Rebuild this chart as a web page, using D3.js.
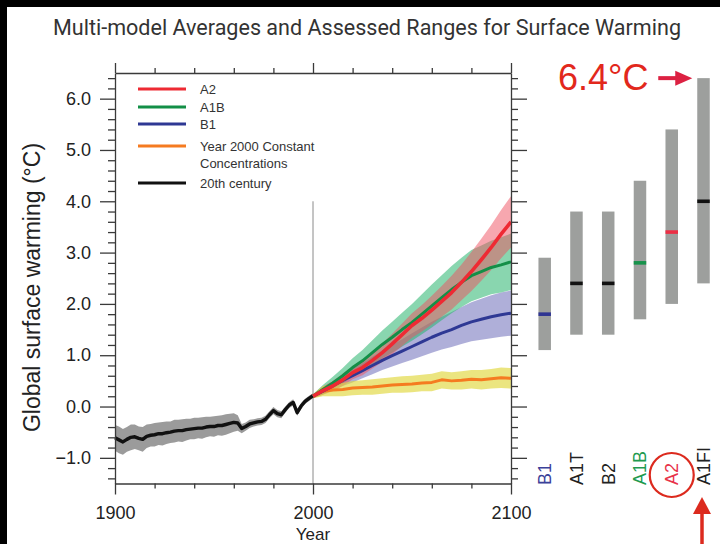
<!DOCTYPE html>
<html>
<head>
<meta charset="utf-8">
<script src="https://cdn.jsdelivr.net/npm/d3@7"></script>
<style>
  body { margin: 0; background: #fff; }
  svg { display: block; }
  .axis path, .axis line { stroke: #3a3a3a; stroke-width: 1.3; }
  .axis text { font-family: "Liberation Sans", Arial, sans-serif; font-size: 18px; fill: #222; }
</style>
</head>
<body>
<svg id="chart" width="720" height="544"></svg>
<script>
// 20th century multi-model mean and spread (every 2 years)
const years20 = [1900,1902,1904,1906,1908,1910,1912,1914,1916,1918,1920,1922,1924,1926,1928,1930,1932,1934,1936,1938,
  1940,1942,1944,1946,1948,1950,1952,1954,1956,1958,1960,1962,1964,1966,1968,1970,1972,1974,1976,1978,
  1980,1982,1984,1986,1988,1990,1992,1994,1996,1998,2000];
const mean20 = [-0.61,-0.65,-0.69,-0.64,-0.60,-0.59,-0.62,-0.64,-0.58,-0.56,-0.55,-0.53,-0.53,-0.51,-0.50,-0.48,-0.47,-0.47,-0.45,-0.44,
  -0.43,-0.42,-0.42,-0.40,-0.39,-0.39,-0.37,-0.37,-0.35,-0.33,-0.31,-0.32,-0.43,-0.39,-0.34,-0.32,-0.30,-0.29,-0.25,-0.16,
  -0.08,-0.14,-0.16,-0.06,0.03,0.08,-0.12,0.01,0.10,0.16,0.21];
const spread20 = [0.25,0.26,0.25,0.24,0.25,0.24,0.23,0.24,0.23,0.22,0.23,0.22,0.23,0.22,0.21,0.22,0.21,0.22,0.21,0.20,
  0.21,0.20,0.21,0.20,0.19,0.20,0.19,0.20,0.20,0.19,0.18,0.15,0.09,0.08,0.08,0.07,0.07,0.07,0.07,0.07,
  0.07,0.07,0.07,0.06,0.06,0.06,0.06,0.06,0.05,0.05,0.05];

// 21st century projections (every 5 years)
const yearsProj = [2000,2005,2010,2015,2020,2025,2030,2035,2040,2045,2050,2055,2060,2065,2070,2075,2080,2085,2090,2095,2100];
const a2Mean = [0.20,0.31,0.40,0.52,0.66,0.76,0.90,1.05,1.22,1.40,1.58,1.72,1.88,2.05,2.22,2.42,2.63,2.86,3.10,3.36,3.60];
const a2Spread = [0.04,0.08,0.10,0.12,0.13,0.15,0.16,0.18,0.20,0.22,0.24,0.26,0.28,0.30,0.33,0.35,0.38,0.41,0.44,0.47,0.50];
const a1bMean = [0.20,0.33,0.46,0.60,0.76,0.89,1.05,1.21,1.35,1.50,1.64,1.80,1.96,2.12,2.28,2.42,2.55,2.63,2.71,2.76,2.82];
const a1bSpread = [0.04,0.09,0.12,0.15,0.18,0.21,0.24,0.27,0.30,0.33,0.36,0.39,0.42,0.44,0.46,0.48,0.50,0.51,0.52,0.54,0.55];
const b1Mean = [0.20,0.30,0.40,0.51,0.60,0.70,0.80,0.90,0.99,1.08,1.17,1.26,1.35,1.43,1.50,1.58,1.65,1.70,1.75,1.79,1.82];
const b1Spread = [0.04,0.07,0.09,0.11,0.13,0.15,0.17,0.19,0.21,0.23,0.26,0.28,0.30,0.32,0.34,0.36,0.38,0.40,0.42,0.43,0.44];
const commitMean = [0.20,0.30,0.32,0.33,0.36,0.37,0.38,0.40,0.42,0.43,0.44,0.46,0.47,0.52,0.50,0.51,0.53,0.52,0.54,0.56,0.55];
const commitSpread = [0.04,0.10,0.12,0.13,0.14,0.14,0.15,0.15,0.15,0.16,0.16,0.16,0.17,0.17,0.17,0.18,0.18,0.19,0.19,0.20,0.20];

// likely ranges at 2090-2099 per scenario
const scenarios = ["B1","A1T","B2","A1B","A2","A1FI"];
const likelyLow = [1.1,1.4,1.4,1.7,2.0,2.4];
const likelyHigh = [2.9,3.8,3.8,4.4,5.4,6.4];
const bestEstimate = [1.8,2.4,2.4,2.8,3.4,4.0];
const scenarioColors = ["#2f3592","#111","#111","#17924b","#ec2f45","#111"];
const labelColors = ["#3b4199","#222","#222","#219a4f","#e8334a","#222"];

const yTicks = [-1,0,1,2,3,4,5,6];
const xTicks = [1900,2000,2100];
const xMinor = [1920,1940,1960,1980,2020,2040,2060,2080];

const legendLabels = ["A2","A1B","B1","Year 2000 Constant|Concentrations","20th century"];
const legendColors = ["#ee2a33","#138f47","#2e3894","#f57b20","#111"];

const svg = d3.select("#chart");
const W = 720, H = 544;

svg.append("rect").attr("width", W).attr("height", H).attr("fill", "#fff");
// dark frame of the original capture
svg.append("rect").attr("width", W).attr("height", 7).attr("fill", "#000");
svg.append("rect").attr("width", 7).attr("height", H).attr("fill", "#000");

const x = d3.scaleLinear([1900, 2100], [115, 511]);
const y = d3.scaleLinear([-1.5, 6.5], [483.5, 73]);
const xBar = d3.scalePoint(scenarios, [544.7, 703.5]);
const barW = 12.5;

const yMinor = d3.range(-7, 33).map(i => i / 5).filter(v => Math.abs(v - Math.round(v)) > 1e-6);

svg.append("text")
    .attr("x", 367).attr("y", 35)
    .attr("text-anchor", "middle")
    .attr("font-family", "Roboto, 'Open Sans', sans-serif")
    .attr("font-size", 21.5)
    .attr("textLength", 628)
    .attr("lengthAdjust", "spacingAndGlyphs")
    .attr("fill", "#333")
    .text("Multi-model Averages and Assessed Ranges for Surface Warming");

// bands
const rows = (ys, m, s) => ys.map((yr, i) => ({year: yr, mean: m[i], spread: s[i]}));
const hist = rows(years20, mean20, spread20);
const series = [
  {key: "B1", data: rows(yearsProj, b1Mean, b1Spread), band: "rgba(110,110,185,0.55)", line: "#2e3894", w: 3},
  {key: "A1B", data: rows(yearsProj, a1bMean, a1bSpread), band: "rgba(40,180,110,0.55)", line: "#138f47", w: 3},
  {key: "A2", data: rows(yearsProj, a2Mean, a2Spread), band: "rgba(240,80,95,0.5)", line: "#ee2a33", w: 3.6},
  {key: "commit", data: rows(yearsProj, commitMean, commitSpread), band: "rgba(225,215,60,0.65)", line: "#f57b20", w: 3}
];

const area = d3.area()
    .x(d => x(d.year))
    .y0(d => y(d.mean - d.spread))
    .y1(d => y(d.mean + d.spread));
const line = d3.line().x(d => x(d.year)).y(d => y(d.mean));

svg.append("line")
    .attr("x1", x(2000)).attr("x2", x(2000))
    .attr("y1", y(4)).attr("y2", y(-1.5))
    .attr("stroke", "#8a8a8a").attr("stroke-width", 1);

svg.append("path").datum(hist).attr("d", area).attr("fill", "#9b9b9b");

svg.selectAll(".band").data(series).join("path")
    .attr("class", "band")
    .attr("d", d => area(d.data))
    .attr("fill", d => d.band);

svg.append("path").datum(hist).attr("d", line)
    .attr("fill", "none").attr("stroke", "#111").attr("stroke-width", 3.4)
    .attr("stroke-linejoin", "round");

svg.selectAll(".proj").data([series[3], series[0], series[1], series[2]]).join("path")
    .attr("class", "proj")
    .attr("d", d => line(d.data))
    .attr("fill", "none")
    .attr("stroke", d => d.line)
    .attr("stroke-width", d => d.w)
    .attr("stroke-linejoin", "round");

// axes
const gl = svg.append("g").attr("class", "axis").attr("transform", `translate(${x(1900)},0)`);
gl.call(d3.axisLeft(y).tickValues(yMinor).tickSize(7).tickSizeOuter(0).tickFormat(""));
gl.append("g").call(d3.axisLeft(y).tickValues(yTicks).tickSize(15).tickPadding(9).tickFormat(d3.format(".1f")))
    .call(g => g.select(".domain").remove());

const gr = svg.append("g").attr("class", "axis").attr("transform", `translate(${x(2100)},0)`);
gr.call(d3.axisRight(y).tickValues(yMinor).tickSize(7).tickSizeOuter(0).tickFormat(""));
gr.append("g").call(d3.axisRight(y).tickValues(yTicks).tickSize(16).tickFormat(""))
    .call(g => g.select(".domain").remove());

const gb = svg.append("g").attr("class", "axis").attr("transform", `translate(0,${y(-1.5)})`);
gb.call(d3.axisBottom(x).tickValues(xMinor).tickSize(5).tickSizeOuter(0).tickFormat(""));
gb.append("g").call(d3.axisBottom(x).tickValues(xTicks).tickSize(11).tickPadding(12).tickFormat(d3.format("d")))
    .call(g => g.select(".domain").remove());

const gt = svg.append("g").attr("class", "axis").attr("transform", `translate(0,${y(6.5)})`);
gt.call(d3.axisTop(x).tickValues(xMinor).tickSize(5).tickSizeOuter(0).tickFormat(""));
gt.append("g").call(d3.axisTop(x).tickValues(xTicks).tickSize(10).tickFormat(""))
    .call(g => g.select(".domain").remove());

svg.selectAll(".axis .tick line").attr("stroke", "#3a3a3a");

svg.append("text")
    .attr("x", x(2000)).attr("y", 539.5)
    .attr("text-anchor", "middle")
    .attr("font-family", "'Liberation Sans', Arial, sans-serif")
    .attr("font-size", 17).attr("fill", "#222")
    .text("Year");

svg.append("text")
    .attr("transform", "translate(40,287.5) rotate(-90)")
    .attr("text-anchor", "middle")
    .attr("font-family", "'Liberation Sans', Arial, sans-serif")
    .attr("font-size", 23).attr("fill", "#222")
    .text("Global surface warming (°C)");

// legend
const lg = svg.append("g").attr("font-family", "'Liberation Sans', Arial, sans-serif").attr("font-size", 13).attr("fill", "#333");
const legendY = [89, 107, 124, 146, 183];
legendLabels.forEach((lab, i) => {
  lg.append("line").attr("x1", 138).attr("x2", 186).attr("y1", legendY[i]).attr("y2", legendY[i])
      .attr("stroke", legendColors[i]).attr("stroke-width", 3);
  const t = lg.append("text").attr("x", 200).attr("y", legendY[i] + 4.5);
  lab.split("|").forEach((s, j) => t.append("tspan").attr("x", 200).attr("dy", j ? 17.5 : 0).text(s));
});

// likely-range bars
const bars = svg.append("g");
bars.selectAll("rect.range").data(scenarios).join("rect")
    .attr("class", "range")
    .attr("x", d => xBar(d) - barW / 2)
    .attr("width", barW)
    .attr("y", (d, i) => y(likelyHigh[i]))
    .attr("height", (d, i) => y(likelyLow[i]) - y(likelyHigh[i]))
    .attr("fill", "#9d9f9d");
bars.selectAll("rect.best").data(scenarios).join("rect")
    .attr("class", "best")
    .attr("x", d => xBar(d) - barW / 2)
    .attr("width", barW)
    .attr("y", (d, i) => y(bestEstimate[i]) - 1.8)
    .attr("height", 3.6)
    .attr("fill", (d, i) => scenarioColors[i]);
bars.selectAll("text").data(scenarios).join("text")
    .attr("transform", d => `translate(${xBar(d) + 6.5},485) rotate(-90)`)
    .attr("font-family", "'Liberation Sans', Arial, sans-serif")
    .attr("font-size", 18)
    .attr("fill", (d, i) => labelColors[i])
    .text(d => d);

// annotations
const red = "#dc2a1e";
const iA2 = scenarios.indexOf("A2"), iFI = scenarios.indexOf("A1FI");
svg.append("circle")
    .attr("cx", xBar(scenarios[iA2])).attr("cy", 475).attr("r", 22)
    .attr("fill", "none").attr("stroke", red).attr("stroke-width", 2.2);

const ax = xBar(scenarios[iFI]) - 1.5;
svg.append("line").attr("x1", ax).attr("x2", ax).attr("y1", 544).attr("y2", 512)
    .attr("stroke", red).attr("stroke-width", 3.5);
svg.append("path")
    .attr("d", `M${ax - 9},${514} L${ax},${497} L${ax + 9},${514} Z`)
    .attr("fill", red);

const topY = y(likelyHigh[iFI]);
const tipX = xBar(scenarios[iFI]) - barW / 2 - 5;
svg.append("text")
    .attr("x", 558).attr("y", topY + 12)
    .attr("font-family", "'Liberation Sans', Arial, sans-serif")
    .attr("font-size", 36).attr("fill", "#e2281c")
    .text("6.4°C");
svg.append("line").attr("x1", tipX - 34).attr("x2", tipX - 14).attr("y1", topY).attr("y2", topY)
    .attr("stroke", "#dc2142").attr("stroke-width", 4);
svg.append("path")
    .attr("d", `M${tipX - 17},${topY - 7.5} L${tipX},${topY} L${tipX - 17},${topY + 7.5} Z`)
    .attr("fill", "#dc2142");
</script>
</body>
</html>
